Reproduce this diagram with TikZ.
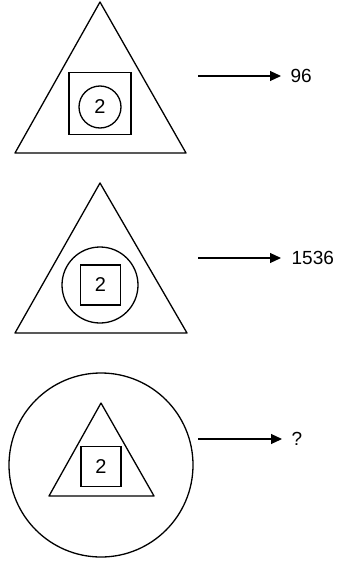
\documentclass[tikz,border=0pt]{standalone}
\usepackage{fontspec}
\setmainfont{Liberation Sans}
\usetikzlibrary{arrows.meta}
\begin{document}
\begin{tikzpicture}[x=1pt,y=-1pt,line width=1.3pt,
  shp/.style={draw,inner sep=0pt,font=\fontsize{20}{22}\selectfont},
  lbl/.style={inner sep=0pt,anchor=west,font=\fontsize{19}{21}\selectfont},
  arr/.style={line width=1.1pt,-{Triangle[length=11pt,width=10pt]}}]
\useasboundingbox (0,0) rectangle (341,562);
% first figure
\draw[line join=round] (100,2) -- (186,153) -- (15,153) -- cycle;
\node[shp,minimum size=62pt] (sq1) at (100,103.5) {};
\node[shp,circle,minimum size=42pt] (c1) at (100,107) {2};
\coordinate (a1) at (198,76);
\node[lbl] (t1) at (290,76) {96};
\draw[arr] (a1) -- ([xshift=-9pt]t1.west);
% second figure
\draw[line join=round] (100,183) -- (187,333) -- (15,333) -- cycle;
\node[shp,circle,minimum size=76pt] (c2) at (100,285) {};
\node[shp,minimum size=40pt] (sq2) at (100.5,285) {2};
\coordinate (a2) at (198,258);
\node[lbl] (t2) at (291,258) {1536};
\draw[arr] (a2) -- ([xshift=-10pt]t2.west);
% third figure
\node[shp,circle,minimum size=184pt] (c3) at (101,465) {};
\draw[line join=round] (101,403) -- (154,496) -- (49,496) -- cycle;
\node[shp,minimum size=40pt] (sq3) at (101,466.5) {2};
\coordinate (a3) at (198,439);
\node[lbl] (t3) at (291,439) {?};
\draw[arr] (a3) -- ([xshift=-9pt]t3.west);
\end{tikzpicture}
\end{document}
